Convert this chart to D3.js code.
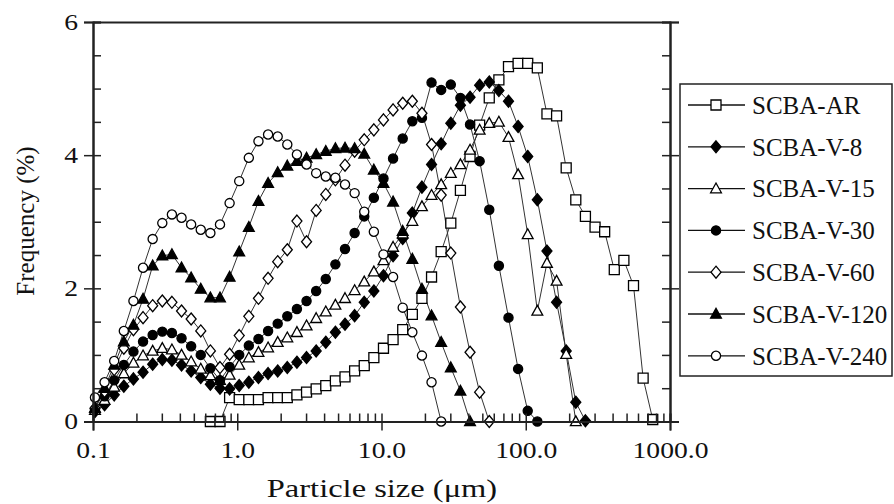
<!DOCTYPE html>
<html>
<head>
<meta charset="utf-8">
<script src="https://cdn.jsdelivr.net/npm/d3@7/dist/d3.min.js"></script>
<style>
body { margin: 0; background: #fff; }
svg { display: block; font-family: "Liberation Serif", "Times New Roman", serif; }
</style>
</head>
<body>
<svg id="chart" width="894" height="504"></svg>
<script>
// particle size classes (um), shared by every curve
var sizes = [0.1032, 0.1203, 0.1403, 0.1636, 0.1907, 0.2223, 0.2592, 0.3023, 0.3524, 0.4109,
    0.4790, 0.5585, 0.6512, 0.7592, 0.8852, 1.032, 1.203, 1.403, 1.636, 1.907,
    2.223, 2.592, 3.023, 3.524, 4.109, 4.790, 5.585, 6.512, 7.592, 8.852,
    10.32, 12.03, 14.03, 16.36, 19.07, 22.23, 25.92, 30.23, 35.24, 41.09,
    47.90, 55.85, 65.12, 75.92, 88.52, 103.2, 120.3, 140.3, 163.6, 190.7,
    222.3, 259.2, 302.3, 352.4, 410.9, 479.0, 558.5, 651.2, 759.2, 885.2];

var xTicks = [0.1, 1, 10, 100, 1000];
var yTicks = [0, 2, 4, 6];

var seriesNames = ["SCBA-AR", "SCBA-V-8", "SCBA-V-15", "SCBA-V-30", "SCBA-V-60", "SCBA-V-120", "SCBA-V-240"];

// frequency (%) per class, starting at class index *Start
var arStart = 12;
var arFreq = [0, 0, 0.36, 0.33, 0.33, 0.33, 0.36, 0.36, 0.36, 0.40, 0.44, 0.49, 0.54, 0.61, 0.67,
    0.76, 0.84, 0.96, 1.10, 1.23, 1.38, 1.61, 1.85, 2.17, 2.55, 2.98, 3.47, 3.98, 4.45, 4.86,
    5.13, 5.33, 5.38, 5.38, 5.31, 4.62, 4.59, 3.81, 3.33, 3.08, 2.92, 2.85, 2.28, 2.42, 2.04, 0.65, 0.03];

var v8Start = 0;
var v8Freq = [0.15, 0.25, 0.40, 0.53, 0.64, 0.74, 0.86, 0.93, 0.92, 0.85,
    0.76, 0.66, 0.56, 0.50, 0.49, 0.54, 0.59, 0.66, 0.72, 0.76,
    0.81, 0.89, 0.96, 1.06, 1.19, 1.34, 1.46, 1.59, 1.79, 1.96,
    2.19, 2.49, 2.75, 3.13, 3.52, 3.86, 4.17, 4.48, 4.75, 4.87,
    5.05, 5.10, 4.97, 4.81, 4.43, 3.98, 3.33, 2.56, 1.79, 1.06, 0.29, 0.01];

var v15Start = 0;
var v15Freq = [0.17, 0.32, 0.52, 0.72, 0.88, 0.99, 1.06, 1.10, 1.08, 1.00,
    0.90, 0.79, 0.69, 0.62, 0.70, 0.85, 0.96, 1.04, 1.11, 1.19,
    1.26, 1.34, 1.44, 1.55, 1.65, 1.75, 1.85, 1.97, 2.10, 2.25,
    2.42, 2.62, 2.82, 3.01, 3.23, 3.40, 3.56, 3.73, 3.86, 4.08,
    4.38, 4.48, 4.50, 4.27, 3.71, 2.81, 1.66, 2.38, 2.11, 1.01, 0];

var v30Start = 0;
var v30Freq = [0.18, 0.38, 0.62, 0.85, 1.05, 1.20, 1.30, 1.35, 1.33, 1.25,
    1.13, 1.00, 0.80, 0.62, 0.82, 1.00, 1.14, 1.24, 1.36, 1.47,
    1.58, 1.69, 1.81, 1.96, 2.14, 2.36, 2.59, 2.83, 3.08, 3.36,
    3.65, 3.95, 4.25, 4.51, 4.56, 5.09, 4.98, 5.06, 4.86, 4.46,
    3.91, 3.18, 2.34, 1.56, 0.79, 0.16, 0];

var v60Start = 0;
var v60Freq = [0.20, 0.45, 0.78, 1.10, 1.38, 1.56, 1.74, 1.81, 1.79, 1.66,
    1.54, 1.36, 1.06, 0.81, 1.01, 1.29, 1.58, 1.85, 2.15, 2.40,
    2.58, 3.01, 2.70, 3.17, 3.41, 3.63, 3.85, 4.06, 4.23, 4.38,
    4.53, 4.68, 4.78, 4.81, 4.63, 4.16, 3.40, 2.53, 1.72, 1.04, 0.44, 0];

var v120Start = 0;
var v120Freq = [0.20, 0.50, 0.85, 1.20, 1.45, 1.84, 2.34, 2.49, 2.51, 2.31,
    2.16, 1.99, 1.86, 1.86, 2.17, 2.55, 2.92, 3.31, 3.58, 3.74,
    3.84, 3.91, 3.96, 4.01, 4.06, 4.10, 4.11, 4.10, 4.02, 3.78,
    3.58, 3.30, 2.86, 2.44, 1.99, 1.59, 1.19, 0.81, 0.46, 0];

var v240Start = 0;
var v240Freq = [0.36, 0.59, 0.91, 1.36, 1.81, 2.31, 2.74, 2.98, 3.11, 3.06,
    2.96, 2.88, 2.83, 2.96, 3.28, 3.61, 3.96, 4.21, 4.31, 4.28,
    4.16, 4.01, 3.86, 3.73, 3.68, 3.66, 3.56, 3.43, 3.15, 2.85,
    2.51, 2.17, 1.71, 1.34, 0.99, 0.59, 0];

var starts = [arStart, v8Start, v15Start, v30Start, v60Start, v120Start, v240Start];
var freqs = [arFreq, v8Freq, v15Freq, v30Freq, v60Freq, v120Freq, v240Freq];
var shapes = ["square", "diamond", "triangle", "circle", "diamond", "triangle", "circle"];
var filled = [false, true, false, true, false, true, false];

var series = seriesNames.map(function (name, i) {
    return {
        name: name,
        shape: shapes[i],
        filled: filled[i],
        points: freqs[i].map(function (v, j) { return { x: sizes[starts[i] + j], y: v }; })
    };
});

var svg = d3.select("#chart");
var mLeft = 93, mRight = 670, mTop = 22, mBottom = 421.5;

var x = d3.scaleLog().domain([0.1, 1000]).range([mLeft, mRight]);
var y = d3.scaleLinear().domain([0, 6]).range([mBottom, mTop]);

function marker(shape) {
    if (shape == "square") return "M-5,-5H5V5H-5Z";
    if (shape == "diamond") return "M0,-6L5,0L0,6L-5,0Z";
    if (shape == "triangle") return "M0,-5.6L5.4,4.2H-5.4Z";
    return d3.symbol().type(d3.symbolCircle).size(66)();
}

// widen text the way the scanned figure is stretched
function stretch(sel, k) {
    sel.each(function () {
        var w = this.getComputedTextLength();
        if (w > 0) d3.select(this).attr("textLength", w * k).attr("lengthAdjust", "spacingAndGlyphs");
    });
}

// curves
var line = d3.line().x(function (d) { return x(d.x); }).y(function (d) { return y(d.y); });
var plot = svg.append("g");
series.forEach(function (s) {
    plot.append("path")
        .datum(s.points)
        .attr("d", line)
        .attr("fill", "none")
        .attr("stroke", "#333")
        .attr("stroke-width", 1);
});
series.forEach(function (s) {
    plot.selectAll(null)
        .data(s.points)
        .enter().append("path")
        .attr("transform", function (d) { return "translate(" + x(d.x) + "," + y(d.y) + ")"; })
        .attr("d", marker(s.shape))
        .attr("fill", s.filled ? "#000" : "#fff")
        .attr("stroke", "#000")
        .attr("stroke-width", 1.3);
});

// axes
var minorX = [];
[0.1, 1, 10, 100].forEach(function (d) {
    for (var m = 2; m <= 9; m++) minorX.push(d * m);
});
var halfY = d3.range(0, 6.01, 0.5);

function styleAxis(g) {
    g.selectAll(".domain").attr("stroke", "#222").attr("stroke-width", 2);
    g.selectAll(".tick line").attr("stroke", "#222").attr("stroke-width", 1.5);
    g.selectAll("text").attr("fill", "#111").attr("font-family", "Liberation Serif").attr("font-size", 23);
}

svg.append("g").attr("transform", "translate(0," + mBottom + ")")
    .call(d3.axisBottom(x).tickValues(minorX.concat(xTicks)).tickSize(-8).tickFormat(""))
    .call(styleAxis);
svg.append("g").attr("transform", "translate(0," + mBottom + ")")
    .call(d3.axisBottom(x).tickValues(xTicks).tickSize(9).tickPadding(11)
        .tickFormat(function (d) { return d3.format(".1f")(d); }))
    .call(styleAxis)
    .selectAll("text").call(stretch, 1.2);

svg.append("g").attr("transform", "translate(" + mLeft + ",0)")
    .call(d3.axisLeft(y).tickValues(halfY).tickSize(-8).tickFormat(""))
    .call(styleAxis);
svg.append("g").attr("transform", "translate(" + mLeft + ",0)")
    .call(d3.axisLeft(y).tickValues(yTicks).tickSize(9).tickPadding(6).tickFormat(d3.format("d")))
    .call(styleAxis)
    .selectAll("text").call(stretch, 1.2);

svg.append("g").attr("transform", "translate(" + mRight + ",0)")
    .call(d3.axisRight(y).tickValues(halfY).tickSize(-8).tickFormat(""))
    .call(styleAxis);
svg.append("g").attr("transform", "translate(" + mRight + ",0)")
    .call(d3.axisRight(y).tickValues(yTicks).tickSize(9).tickFormat(""))
    .call(styleAxis);

svg.append("g").attr("transform", "translate(0," + mTop + ")")
    .call(d3.axisTop(x).tickValues([]).tickSizeOuter(0))
    .call(styleAxis);

// axis titles
svg.append("text")
    .attr("x", 382).attr("y", 497)
    .attr("text-anchor", "middle")
    .attr("font-size", 26)
    .attr("fill", "#111")
    .text("Particle size (\u03bcm)")
    .call(stretch, 1.25);

svg.append("text")
    .attr("transform", "translate(34,221) rotate(-90)")
    .attr("text-anchor", "middle")
    .attr("font-size", 25)
    .attr("fill", "#111")
    .text("Frequency (%)");

// legend
var legend = svg.append("g");
legend.append("rect")
    .attr("x", 680).attr("y", 84)
    .attr("width", 212).attr("height", 292)
    .attr("fill", "#fff")
    .attr("stroke", "#222")
    .attr("stroke-width", 1.5);

series.forEach(function (s, i) {
    var ly = 105 + i * 41.8;
    legend.append("line")
        .attr("x1", 688).attr("x2", 745)
        .attr("y1", ly).attr("y2", ly)
        .attr("stroke", "#111").attr("stroke-width", 1.3);
    legend.append("path")
        .attr("transform", "translate(716," + ly + ")")
        .attr("d", marker(s.shape))
        .attr("fill", s.filled ? "#000" : "#fff")
        .attr("stroke", "#000")
        .attr("stroke-width", 1.3);
    legend.append("text")
        .attr("x", 752).attr("y", ly)
        .attr("dy", "0.35em")
        .attr("font-size", 25)
        .attr("fill", "#111")
        .text(s.name);
});
</script>
</body>
</html>
